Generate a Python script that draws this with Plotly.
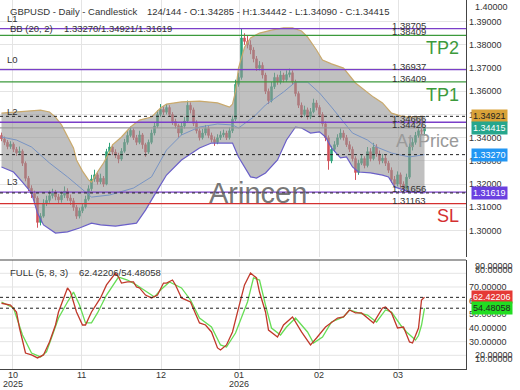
import plotly.graph_objects as go

# ---------------- DATA ----------------
open_ = [1.3410,1.3395,1.3380,1.3362,1.3372,1.3350,1.3335,1.3342,1.3290,1.3225,
         1.3182,1.3160,1.3140,1.3035,1.3062,1.3118,1.3130,1.3150,1.3162,1.3145,
         1.3132,1.3152,1.3170,1.3140,1.3128,1.3100,1.3062,1.3085,1.3102,1.3135,
         1.3180,1.3222,1.3240,1.3210,1.3225,1.3200,1.3340,1.3360,1.3338,1.3325,
         1.3308,1.3342,1.3380,1.3410,1.3432,1.3400,1.3380,1.3412,1.3370,1.3338,
         1.3380,1.3420,1.3450,1.3500,1.3522,1.3510,1.3530,1.3500,1.3470,1.3452,
         1.3420,1.3450,1.3472,1.3540,1.3520,1.3462,1.3430,1.3400,1.3420,1.3440,
         1.3410,1.3392,1.3380,1.3400,1.3412,1.3420,1.3400,1.3430,1.3480,1.3630,
         1.3660,1.3830,1.3815,1.3800,1.3778,1.3740,1.3700,1.3712,1.3670,1.3600,
         1.3560,1.3620,1.3660,1.3640,1.3670,1.3650,1.3672,1.3680,1.3640,1.3590,
         1.3540,1.3500,1.3520,1.3490,1.3512,1.3550,1.3530,1.3500,1.3460,1.3400,
         1.3300,1.3350,1.3370,1.3400,1.3420,1.3400,1.3370,1.3350,1.3310,1.3250,
         1.3290,1.3310,1.3280,1.3340,1.3310,1.3360,1.3330,1.3300,1.3312,1.3290,
         1.3260,1.3220,1.3200,1.3240,1.3200,1.3180,1.3230,1.3360,1.3380,1.3410,
         1.3430,1.34285]
high = [1.3422,1.3405,1.3390,1.3385,1.3380,1.3360,1.3362,1.3350,1.3298,1.3235,
        1.3195,1.3172,1.3148,1.3075,1.3135,1.3150,1.3172,1.3180,1.3175,1.3158,
        1.3168,1.3190,1.3182,1.3155,1.3140,1.3110,1.3098,1.3115,1.3150,1.3195,
        1.3240,1.3262,1.3250,1.3245,1.3235,1.3352,1.3378,1.3370,1.3350,1.3335,
        1.3355,1.3395,1.3428,1.3448,1.3440,1.3412,1.3430,1.3420,1.3378,1.3392,
        1.3435,1.3465,1.3518,1.3545,1.3535,1.3545,1.3540,1.3510,1.3482,1.3460,
        1.3465,1.3490,1.3560,1.3552,1.3530,1.3475,1.3440,1.3438,1.3455,1.3450,
        1.3422,1.3405,1.3415,1.3428,1.3435,1.3430,1.3445,1.3495,1.3650,1.3680,
        1.38705,1.3850,1.3842,1.3820,1.3790,1.3752,1.3730,1.3725,1.3680,1.3612,
        1.3640,1.3680,1.3672,1.3688,1.3680,1.3690,1.3698,1.3690,1.3650,1.3600,
        1.3552,1.3538,1.3530,1.3528,1.3568,1.3562,1.3540,1.3510,1.3470,1.3410,
        1.3365,1.3385,1.3415,1.3440,1.3432,1.3412,1.3385,1.3362,1.3320,1.3305,
        1.3328,1.3320,1.3360,1.3355,1.3378,1.3372,1.3345,1.3330,1.3325,1.3300,
        1.3272,1.3235,1.3255,1.3250,1.3212,1.3245,1.3375,1.3398,1.3425,1.3448,
        1.3450,1.34442]
low = [1.3385,1.3368,1.3350,1.3352,1.3338,1.3322,1.3325,1.3278,1.3212,1.3170,
       1.3140,1.3118,1.3012,1.3022,1.3055,1.3105,1.3120,1.3138,1.3130,1.3115,
       1.3120,1.3140,1.3128,1.3110,1.3085,1.3050,1.3052,1.3075,1.3095,1.3128,
       1.3170,1.3210,1.3198,1.3200,1.3188,1.3195,1.3328,1.3325,1.3312,1.3290,
       1.3300,1.3335,1.3370,1.3402,1.3390,1.3368,1.3372,1.3352,1.3318,1.3330,
       1.3372,1.3410,1.3442,1.3490,1.3498,1.3500,1.3490,1.3455,1.3440,1.3400,
       1.3412,1.3440,1.3465,1.3505,1.3450,1.3418,1.3388,1.3392,1.3410,1.3398,
       1.3380,1.3365,1.3372,1.3390,1.3402,1.3390,1.3392,1.3420,1.3472,1.3620,
       1.3650,1.3800,1.3785,1.3760,1.3725,1.3688,1.3690,1.3655,1.3588,1.3545,
       1.3552,1.3610,1.3628,1.3630,1.3638,1.3640,1.3660,1.3628,1.3578,1.3528,
       1.3485,1.3490,1.3478,1.3480,1.3505,1.3518,1.3488,1.3448,1.3385,1.3262,
       1.3290,1.3340,1.3360,1.3392,1.3388,1.3360,1.3338,1.3298,1.3218,1.3240,
       1.3282,1.3268,1.3272,1.3298,1.3302,1.3318,1.3285,1.3290,1.3278,1.3248,
       1.3205,1.3185,1.3190,1.3185,1.31656,1.3172,1.3222,1.3345,1.3370,1.3400,
       1.3415,1.34090]
close = [1.3395,1.3380,1.3362,1.3372,1.3350,1.3335,1.3342,1.3290,1.3225,1.3182,
         1.3160,1.3140,1.3035,1.3062,1.3118,1.3130,1.3150,1.3162,1.3145,1.3132,
         1.3152,1.3170,1.3140,1.3128,1.3100,1.3062,1.3085,1.3102,1.3135,1.3180,
         1.3222,1.3240,1.3210,1.3225,1.3200,1.3340,1.3360,1.3338,1.3325,1.3308,
         1.3342,1.3380,1.3410,1.3432,1.3400,1.3380,1.3412,1.3370,1.3338,1.3380,
         1.3420,1.3450,1.3500,1.3522,1.3510,1.3530,1.3500,1.3470,1.3452,1.3420,
         1.3450,1.3472,1.3540,1.3520,1.3462,1.3430,1.3400,1.3420,1.3440,1.3410,
         1.3392,1.3380,1.3400,1.3412,1.3420,1.3400,1.3430,1.3480,1.3630,1.3660,
         1.3830,1.3815,1.3800,1.3778,1.3740,1.3700,1.3712,1.3670,1.3600,1.3560,
         1.3620,1.3660,1.3640,1.3670,1.3650,1.3672,1.3680,1.3640,1.3590,1.3540,
         1.3500,1.3520,1.3490,1.3512,1.3550,1.3530,1.3500,1.3460,1.3400,1.3300,
         1.3350,1.3370,1.3400,1.3420,1.3400,1.3370,1.3350,1.3310,1.3250,1.3290,
         1.3310,1.3280,1.3340,1.3310,1.3360,1.3330,1.3300,1.3312,1.3290,1.3260,
         1.3220,1.3200,1.3240,1.3200,1.3180,1.3230,1.3360,1.3380,1.3410,1.3430,
         1.34285,1.34415]
bar_index = list(range(len(close)))

# Bollinger Bands (20, 2)
bb_upper_idx = [0,6,13,16,18,20,22,24,25,27,29,30,32,34,36,37,40,43,46,50,53,55,60,66,72,76,77,78,79,81,
                83,86,90,94,97,100,102,105,107,110,114,118,124,127,130,133,136,139,141]
bb_upper = [1.3506,1.3511,1.3519,1.3511,1.3489,1.3455,1.3403,1.3356,1.3304,1.3256,
            1.3218,1.3209,1.3252,1.3291,1.3338,1.3369,1.3403,1.3446,1.3476,1.3489,
            1.3528,1.3545,1.3554,1.3558,1.3550,1.3532,1.3545,1.3600,1.3700,1.3790,
            1.3830,1.3851,1.3864,1.3873,1.3873,1.3860,1.3834,1.3778,1.3735,1.3718,
            1.3700,1.3636,1.3575,1.3550,1.3506,1.3494,1.3489,1.3489,1.34921]
bb_lower_idx = [0,4,7,10,12,14,18,22,26,30,33,38,45,48,52,55,60,66,70,77,79,81,83,85,88,92,95,98,100,103,
                106,108,110,113,115,117,119,123,127,129,131,134,137,141]
bb_lower = [1.3274,1.3252,1.3209,1.3162,1.3075,1.3024,1.2989,1.2994,1.3011,1.3032,
            1.3024,1.3019,1.3032,1.3088,1.3175,1.3239,1.3304,1.3356,1.3377,1.3377,
            1.3317,1.3274,1.3231,1.3226,1.3248,1.3304,1.3390,1.3446,1.3442,1.3420,
            1.3425,1.3403,1.3356,1.3313,1.3317,1.3274,1.3252,1.3248,1.3239,1.3231,
            1.3188,1.3175,1.3166,1.31619]
bb_mid_idx = [0,5,10,16,22,27,30,36,44,50,55,60,66,72,77,79,84,88,94,98,102,106,110,117,122,125,130,136,141]
bb_mid = [1.3403,1.3390,1.3360,1.3291,1.3231,1.3175,1.3144,1.3153,1.3183,1.3231,
          1.3347,1.3412,1.3446,1.3459,1.3455,1.3442,1.3489,1.3541,1.3597,1.3640,
          1.3640,1.3593,1.3532,1.3420,1.3390,1.3360,1.3334,1.3317,1.33270]

# Stochastic FULL (5, 8, 3)
k_idx = [0,3,5,6,8,10,12,14,16,18,19,22,23,25,27,28,30,33,35,38,39,40,42,44,45,46,48,50,52,54,
         55,57,58,60,63,65,66,68,70,72,73,75,77,79,81,83,85,86,88,89,92,94,97,100,103,105,108,112,114,116,
         118,120,122,124,127,128,130,132,134,136,137,139,140,141]
k_val = [58.1,56.8,51.7,40.0,21.7,20.3,18.1,20.3,29.8,42.2,
         51.7,69.3,66.3,51.7,42.2,42.2,51.7,62.0,71.5,80.2,
         77.3,72.9,73.7,73.7,70.0,69.3,64.1,62.0,64.1,72.9,
         72.9,75.1,71.5,62.0,59.0,49.5,43.7,42.2,37.1,25.4,
         23.9,27.6,37.1,54.6,71.5,80.2,76.6,66.3,51.7,38.5,
         33.4,42.2,48.1,37.1,27.6,32.7,40.7,47.3,48.1,53.2,
         51.0,51.0,47.3,43.7,54.6,55.4,51.0,40.0,40.7,29.8,
         29.0,40.0,60.5,62.42206]
d_idx = [0,4,7,10,13,15,17,19,22,24,26,28,30,32,35,39,42,45,49,51,53,56,60,63,66,70,73,75,78,82,
         84,86,88,90,93,95,98,102,104,107,110,114,116,119,122,125,128,130,133,135,138,139,140,141]
d_val = [59.0,54.6,34.9,21.7,18.8,22.5,34.9,47.3,59.0,66.3,
         56.8,43.7,43.7,51.0,64.1,77.3,75.1,71.5,65.6,62.7,
         67.8,73.7,69.3,60.5,47.3,40.7,27.6,26.1,36.3,59.0,
         76.6,75.1,56.8,40.0,34.9,40.7,47.3,37.1,29.0,33.4,
         44.4,48.1,53.2,51.0,49.5,44.4,53.2,51.7,42.2,37.1,
         31.2,34.5,42.0,54.48058]

# Month ticks (bar positions of month starts)
month_tick_pos = [3.83, 26.83, 53.17, 79.17, 105.83, 132.17]
month_tick_text = ["10", "11", "12", "01", "02", "03"]
year_tick_text = ["2025", "", "", "2026", "", ""]

price_ticks = [1.30, 1.31, 1.32, 1.33, 1.34, 1.35, 1.36, 1.37, 1.38, 1.39]
stoch_ticks = [30, 40, 50, 60, 70]

# horizontal levels: value, tag
level_values = [1.38705, 1.38409, 1.36937, 1.36409, 1.34666, 1.34426, 1.31656, 1.31163]
level_tags = ["L1", "TP2", "L0", "TP1", "L2", "At Price", "L3", "SL"]
bb_last = [1.34921, 1.33270, 1.31619]   # upper, middle, lower
last_price = 1.34415
stoch_last = [62.42206, 54.48058]

# ---------------- STYLE ----------------
GREEN = "#2fa37a"
RED = "#d0525a"
PURPLE = "#7a3fc8"
TPGREEN = "#3c9a3c"
SLRED = "#d43030"
GRID = "#e4e4e4"
FONT = "Liberation Sans, Arial, sans-serif"
SMALL = 9
level_colors = {"L1": PURPLE, "TP2": TPGREEN, "L0": PURPLE, "TP1": TPGREEN,
                "L2": PURPLE, "At Price": "#9a9a9a", "L3": PURPLE, "SL": SLRED}

fig = go.Figure()

fig.add_trace(go.Scatter(x=bb_lower_idx, y=bb_lower, mode="lines",
                         line=dict(color="#6a5fc8", width=1.2), hoverinfo="skip",
                         xaxis="x", yaxis="y"))
fig.add_trace(go.Scatter(x=bb_upper_idx, y=bb_upper, mode="lines",
                         line=dict(color="#c9a96c", width=1.2), fill="tonexty",
                         fillcolor="rgba(150,150,150,0.6)", hoverinfo="skip",
                         xaxis="x", yaxis="y"))
fig.add_trace(go.Scatter(x=bb_mid_idx, y=bb_mid, mode="lines",
                         line=dict(color="#7894c4", width=1), hoverinfo="skip",
                         xaxis="x", yaxis="y"))
fig.add_trace(go.Candlestick(x=bar_index, open=open_, high=high, low=low, close=close,
                             increasing=dict(line=dict(color=GREEN, width=1), fillcolor=GREEN),
                             decreasing=dict(line=dict(color=RED, width=1), fillcolor=RED),
                             whiskerwidth=0, xaxis="x", yaxis="y"))

fig.add_trace(go.Scatter(x=d_idx, y=d_val, mode="lines", line=dict(color="#66dd55", width=1.3),
                         xaxis="x2", yaxis="y2", hoverinfo="skip"))
fig.add_trace(go.Scatter(x=k_idx, y=k_val, mode="lines", line=dict(color="#c0392b", width=1.3),
                         xaxis="x2", yaxis="y2", hoverinfo="skip"))

XR = [-0.5, 154.83]
MAIN_DOM = [0.3035, 1.0]
LOW_DOM = [0.0, 0.2954]

shapes = []
for g in [20, 30, 40, 50, 60, 70, 80]:
    shapes.append(dict(type="line", xref="paper", x0=0, x1=1, yref="y2", y0=g, y1=g,
                       line=dict(color=GRID, width=1), layer="below"))
for v, tag in zip(level_values, level_tags):
    shapes.append(dict(type="line", xref="paper", x0=0, x1=1, yref="y", y0=v, y1=v,
                       line=dict(color=level_colors[tag], width=1.3)))
for v in bb_last:
    shapes.append(dict(type="line", xref="paper", x0=0, x1=1, yref="y", y0=v, y1=v,
                       line=dict(color="#222", width=1, dash="3px,3px")))
for v in stoch_last:
    shapes.append(dict(type="line", xref="paper", x0=0, x1=1, yref="y2", y0=v, y1=v,
                       line=dict(color="#222", width=1, dash="3px,3px")))
shapes.append(dict(type="line", xref="paper", x0=0, x1=1, yref="paper", y0=LOW_DOM[1], y1=LOW_DOM[1],
                   line=dict(color="#444", width=1.2)))

ann = []
W = 466.0
H = 369.0
def px(xp):
    return xp / W
def py(yp):
    return 1 - yp / H
def txt(x, y, s, size=SMALL, color="#333", xanchor="left", yanchor="middle", xref="paper", yref="paper", **kw):
    ann.append(dict(x=x, y=y, xref=xref, yref=yref, text=s, showarrow=False,
                    xanchor=xanchor, yanchor=yanchor, font=dict(size=size, color=color, family=FONT), **kw))

# header texts
txt(px(8), py(12), "GBPUSD - Daily - Candlestick", size=9.5)
txt(px(145), py(12), "124/144 - O:1.34285 - H:1.34442 - L:1.34090 - C:1.34415", size=9.5)
txt(px(8), py(29), "BB (20, 2)", size=9.5)
txt(px(62), py(29), "1.33270/1.34921/1.31619", size=9.5)
txt(px(8), py(272), "FULL (5, 8, 3)", size=9.5)
txt(px(77), py(272), "62.42206/54.48058", size=9.5)

for v, tag in zip(level_values, level_tags):
    if tag.startswith("L"):
        txt(px(5), v, tag, size=9.5, yref="y", yanchor="bottom", yshift=3)
for v in level_values:
    txt(px(390), v, f"{v:.5f}", size=9.5, yref="y", yanchor="bottom", yshift=-4)

big = {"TP2": (48, TPGREEN), "TP1": (95, TPGREEN), "At Price": (141, "#9a9a9a"), "SL": (216, SLRED)}
for tag, (yp, col) in big.items():
    txt(px(461), py(yp), tag, size=18, color=col, xanchor="right")

txt(px(258), py(193), "Arincen", size=29, color="rgba(95,95,95,0.85)", xanchor="center")

# x tick labels
for pos, m, yr in zip(month_tick_pos, month_tick_text, year_tick_text):
    txt(pos, py(375), m, size=SMALL, xref="x2", xanchor="center")
    if yr:
        txt(pos, py(384), yr, size=SMALL, xref="x2", xanchor="center")

# clamped axis labels
txt(px(473), py(7), "1.40000", size=SMALL)
txt(px(473), py(266), "90.00000", size=SMALL)
txt(px(473), py(270), "80.00000", size=SMALL)
txt(px(473), py(355), "20.00000", size=SMALL)
txt(px(473), py(359), "10.00000", size=SMALL)

badges = [(bb_last[0], "#d9a238", "#222", "y"), (last_price, "#26a68c", "white", "y"),
          (bb_last[1], "#2196f3", "white", "y"), (bb_last[2], "#6a40e0", "white", "y"),
          (stoch_last[0], "#e53935", "white", "y2"), (stoch_last[1], "#22dd22", "#222", "y2")]
for v, bg, fc, yr in badges:
    ann.append(dict(x=px(471), y=v, xref="paper", yref=yr, text=f"{v:.5f}", showarrow=False,
                    xanchor="left", yanchor="middle", bgcolor=bg, borderpad=1,
                    font=dict(size=SMALL, color=fc, family=FONT)))

fig.update_layout(
    width=520, height=390, margin=dict(l=0, r=54, t=0, b=21, autoexpand=False),
    paper_bgcolor="white", plot_bgcolor="white", showlegend=False,
    font=dict(family=FONT, size=SMALL, color="#333"),
    xaxis=dict(domain=[0, 1], range=XR, anchor="y", showticklabels=False, automargin=False,
               tickvals=month_tick_pos, showgrid=True, gridcolor=GRID, zeroline=False,
               rangeslider=dict(visible=False), fixedrange=True),
    yaxis=dict(domain=MAIN_DOM, range=[1.28858, 1.39935], side="right", anchor="x", automargin=False,
               tickvals=price_ticks, ticktext=[f"{t:.5f}" for t in price_ticks],
               showgrid=True, gridcolor=GRID, zeroline=False, showline=True, linecolor="#444",
               linewidth=1.2, ticks="", tickfont=dict(size=SMALL, color="#333")),
    xaxis2=dict(domain=[0, 1], range=XR, anchor="y2", tickvals=month_tick_pos, automargin=False,
                showticklabels=False, showgrid=True, gridcolor=GRID, zeroline=False,
                showline=True, linecolor="#444", linewidth=1.2, ticks=""),
    yaxis2=dict(domain=LOW_DOM, range=[10, 89.75], side="right", anchor="x2", automargin=False,
                tickvals=stoch_ticks, ticktext=[f"{t:.5f}" for t in stoch_ticks],
                showgrid=False, zeroline=False, showline=True, linecolor="#444", linewidth=1.2,
                ticks="", tickfont=dict(size=SMALL, color="#333")),
    shapes=shapes, annotations=ann,
)

fig.write_html("out.html", config={"displayModeBar": False},
               post_script="document.body.style.margin='0';document.body.style.overflow='hidden';")
